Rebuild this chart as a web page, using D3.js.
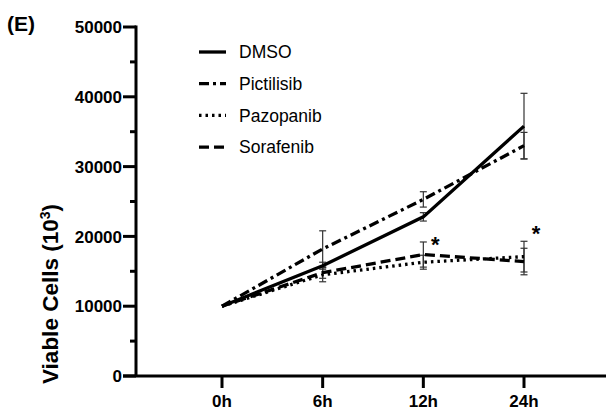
<!DOCTYPE html>
<head>
  <meta charset="utf-8" />
  <script src="https://d3js.org/d3.v7.min.js"></script>
  <style>
    body { margin: 0; background: #fff; }
    text { font-family: "Liberation Sans", Arial, sans-serif; }
  </style>
</head>
<body>
<div id="chart"></div>
<script>

// data
var timepoints = ["0h", "6h", "12h", "24h"];
var dmso       = [10000, 15800, 22800, 35800];
var dmsoErr    = [0, 500, 600, 4700];
var pictilisib = [10000, 18200, 25300, 33000];
var pictErr    = [0, 2600, 1100, 1900];
var pazopanib  = [10000, 14500, 16300, 17100];
var pazoErr    = [0, 1000, 1000, 2200];
var sorafenib  = [10000, 14800, 17400, 16400];
var soraErr    = [0, 800, 1800, 1900];
var yTicks = [0, 10000, 20000, 30000, 40000, 50000];
var yMinor = [5000, 15000, 25000, 35000, 45000];
var stars = [{t: 2, v: 19500}, {t: 3, v: 21000}];

var series = [
  {name: "DMSO",       vals: dmso,       err: dmsoErr, dash: null},
  {name: "Pictilisib", vals: pictilisib, err: pictErr, dash: "10,4,3,4"},
  {name: "Pazopanib",  vals: pazopanib,  err: pazoErr, dash: "2.5,4"},
  {name: "Sorafenib",  vals: sorafenib,  err: soraErr, dash: "10,5"}
];

var W = 606, H = 411;
var svg = d3.select("#chart").append("svg")
  .attr("width", W).attr("height", H);

var axisX = 136;     // y axis position
var axisY = 376;     // x axis position

var x = d3.scaleLinear().domain([0, 3]).range([222, 524]);
var y = d3.scaleLinear().domain([0, 50000]).range([axisY, 27]);

// y axis
var yAxis = svg.append("g");
yAxis.append("line")
  .attr("x1", axisX).attr("x2", axisX)
  .attr("y1", y(50000) - 1.5).attr("y2", axisY)
  .attr("stroke", "#000").attr("stroke-width", 3);
yAxis.selectAll(".maj").data(yTicks).enter().append("line")
  .attr("x1", axisX - 13).attr("x2", axisX)
  .attr("y1", function(d) { return y(d); })
  .attr("y2", function(d) { return y(d); })
  .attr("stroke", "#000").attr("stroke-width", 3);
yAxis.selectAll(".min").data(yMinor).enter().append("line")
  .attr("x1", axisX - 6).attr("x2", axisX)
  .attr("y1", function(d) { return y(d); })
  .attr("y2", function(d) { return y(d); })
  .attr("stroke", "#000").attr("stroke-width", 3);
yAxis.selectAll("text").data(yTicks).enter().append("text")
  .attr("x", axisX - 14)
  .attr("y", function(d) { return y(d); })
  .attr("dy", "0.36em")
  .attr("text-anchor", "end")
  .style("font-size", "17px").style("font-weight", "bold")
  .text(function(d) { return d; });

// x axis
var xAxis = svg.append("g");
xAxis.append("line")
  .attr("x1", axisX - 13).attr("x2", W)
  .attr("y1", axisY).attr("y2", axisY)
  .attr("stroke", "#000").attr("stroke-width", 3);
xAxis.selectAll(".tk").data(timepoints).enter().append("line")
  .attr("x1", function(d, i) { return x(i); })
  .attr("x2", function(d, i) { return x(i); })
  .attr("y1", axisY).attr("y2", axisY + 12)
  .attr("stroke", "#000").attr("stroke-width", 3);
xAxis.selectAll("text").data(timepoints).enter().append("text")
  .attr("x", function(d, i) { return x(i); })
  .attr("y", 407)
  .attr("text-anchor", "middle")
  .style("font-size", "17px").style("font-weight", "bold")
  .text(function(d) { return d; });

// axis title
svg.append("text")
  .attr("transform", "translate(58,294) rotate(-90)")
  .attr("text-anchor", "middle")
  .style("font-size", "22.5px").style("font-weight", "bold")
  .html('Viable Cells (10<tspan dy="-8" font-size="14px">3</tspan><tspan dy="8">)</tspan>');

svg.append("text")
  .attr("x", 7).attr("y", 31)
  .style("font-size", "21px").style("font-weight", "bold")
  .text("(E)");

// error bars
var eb = svg.append("g").attr("stroke", "#333").attr("stroke-width", 1.2);
series.forEach(function(s) {
  s.vals.forEach(function(v, i) {
    if (!s.err[i]) return;
    var cx = x(i), top = y(v + s.err[i]), bot = y(v - s.err[i]);
    eb.append("line").attr("x1", cx).attr("x2", cx).attr("y1", top).attr("y2", bot);
    eb.append("line").attr("x1", cx - 3.5).attr("x2", cx + 3.5).attr("y1", top).attr("y2", top);
    eb.append("line").attr("x1", cx - 3.5).attr("x2", cx + 3.5).attr("y1", bot).attr("y2", bot);
  });
});

// lines
var line = d3.line()
  .x(function(d, i) { return x(i); })
  .y(function(d) { return y(d); });

svg.append("g").selectAll("path").data(series).enter().append("path")
  .attr("d", function(d) { return line(d.vals); })
  .attr("fill", "none")
  .attr("stroke", "#000")
  .attr("stroke-width", 3.3)
  .attr("stroke-dasharray", function(d) { return d.dash; });

// significance stars
svg.selectAll(".star").data(stars).enter().append("text")
  .attr("x", function(d) { return x(d.t) + 12; })
  .attr("y", function(d) { return y(d.v) + 12; })
  .attr("text-anchor", "middle")
  .style("font-size", "22px").style("font-weight", "bold")
  .text("*");

// legend
var leg = svg.append("g");
series.forEach(function(s, i) {
  var ly = 52 + i * 31.7;
  leg.append("line")
    .attr("x1", 199).attr("x2", 226)
    .attr("y1", ly).attr("y2", ly)
    .attr("stroke", "#000").attr("stroke-width", 3.3)
    .attr("stroke-dasharray", s.dash);
  leg.append("text")
    .attr("x", 239).attr("y", ly)
    .attr("dy", "0.36em")
    .style("font-size", "17.5px")
    .text(s.name);
});

</script>
